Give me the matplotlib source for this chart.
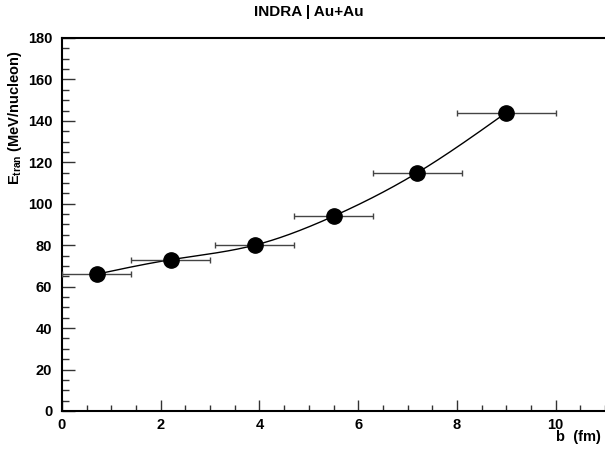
import numpy as np
import matplotlib
matplotlib.use("Agg")
import matplotlib.pyplot as plt
from matplotlib.ticker import MultipleLocator

b_vals = [0.7, 2.2, 3.9, 5.5, 7.2, 9.0]
e_tran = [66, 73, 80, 94, 115, 144]
b_err = [0.7, 0.8, 0.8, 0.8, 0.9, 1.0]
title = "INDRA | Au+Au"
xlabel = "b  (fm)"
ylabel = r"$\mathbf{E_{tran}}$ (MeV/nucleon)"


def natural_spline(x, y, xs):
    x = np.asarray(x, float); y = np.asarray(y, float)
    n = len(x)
    h = np.diff(x)
    A = np.zeros((n, n)); r = np.zeros(n)
    A[0, 0] = 1; A[-1, -1] = 1
    for i in range(1, n - 1):
        A[i, i - 1] = h[i - 1]
        A[i, i] = 2 * (h[i - 1] + h[i])
        A[i, i + 1] = h[i]
        r[i] = 3 * ((y[i + 1] - y[i]) / h[i] - (y[i] - y[i - 1]) / h[i - 1])
    c = np.linalg.solve(A, r)
    bcoef = (np.diff(y) / h) - h * (2 * c[:-1] + c[1:]) / 3
    d = np.diff(c) / (3 * h)
    idx = np.clip(np.searchsorted(x, xs) - 1, 0, n - 2)
    dx = xs - x[idx]
    return y[idx] + bcoef[idx] * dx + c[idx] * dx ** 2 + d[idx] * dx ** 3


plt.rcParams['font.family'] = ['Liberation Sans', 'DejaVu Sans']
plt.rcParams['font.weight'] = 'bold'
plt.rcParams['mathtext.fontset'] = 'custom'
plt.rcParams['mathtext.rm'] = 'Liberation Sans:bold'
plt.rcParams['mathtext.bf'] = 'Liberation Sans:bold'
plt.rcParams['mathtext.it'] = 'Liberation Sans:bold'

fig = plt.figure(figsize=(6.05, 4.51), dpi=100)
ax = fig.add_axes([62 / 605, 40 / 451, 543 / 605, 373 / 451])

xs = np.linspace(b_vals[0], b_vals[-1], 300)
ax.plot(xs, natural_spline(b_vals, e_tran, xs), color='black', lw=1.0, zorder=2)
ax.errorbar(b_vals, e_tran, xerr=b_err, fmt='none', ecolor='#444444',
            elinewidth=1.0, capsize=2, capthick=1.0, zorder=3)
ax.plot(b_vals, e_tran, 'o', color='black', markersize=11, zorder=4)

ax.set_xlim(0, 11)
ax.set_ylim(0, 180)
ax.xaxis.set_major_locator(MultipleLocator(2))
ax.xaxis.set_minor_locator(MultipleLocator(0.5))
ax.yaxis.set_major_locator(MultipleLocator(20))
ax.yaxis.set_minor_locator(MultipleLocator(5))
ax.tick_params(which='both', direction='in', width=1.0, color='#333333',
               labelsize=10.5, top=False, right=False)
ax.tick_params(axis='x', which='major', length=8, pad=5)
ax.tick_params(axis='x', which='minor', length=4)
ax.tick_params(axis='y', which='major', length=9.5, pad=7)
ax.tick_params(axis='y', which='minor', length=5)
for lab in ax.get_xticklabels() + ax.get_yticklabels():
    lab.set_fontweight('bold')
for s in ax.spines.values():
    s.set_linewidth(1.5)
ax.spines['right'].set_visible(False)

fig.text(0.51, 1 - 12 / 451, title, ha='center', va='center', fontsize=11, fontweight='bold')
fig.text(601 / 605, 1 - 437 / 451, xlabel, ha='right', va='center', fontsize=10.5, fontweight='bold')
fig.text(15 / 605, 1 - 118 / 451, ylabel, ha='center', va='center', rotation=90,
         fontsize=10.5, fontweight='bold')

fig.savefig('out.png', dpi=100)
